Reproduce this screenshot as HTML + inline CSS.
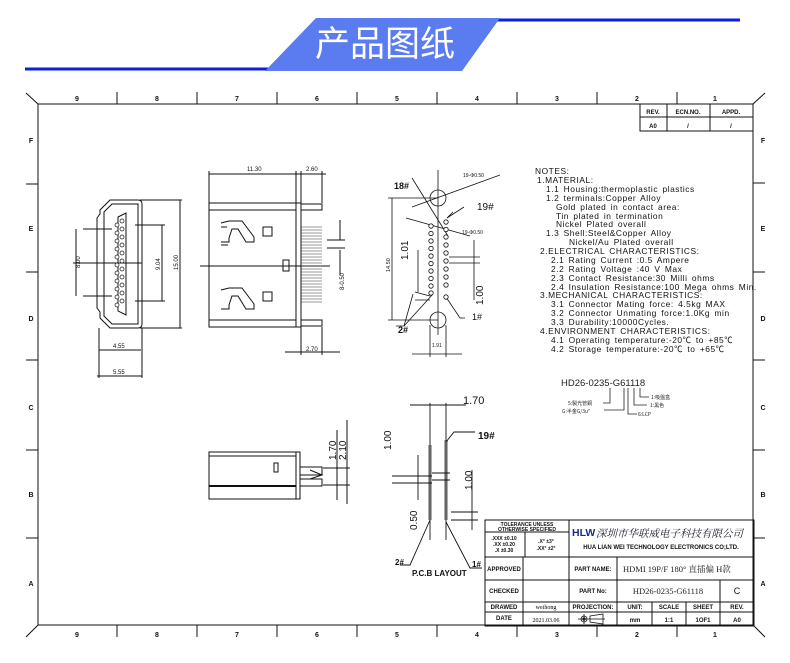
<!DOCTYPE html>
<html><head><meta charset="utf-8"><style>
html,body{margin:0;padding:0;background:#fff;}
svg{display:block;font-family:"Liberation Sans","Noto Sans CJK SC",sans-serif;}
.t{font-size:8.4px;fill:#111;letter-spacing:0.55px;word-spacing:1.5px;}
.s{font-size:6px;fill:#111;}
.b{font-size:7px;font-weight:bold;fill:#111;}
</style></head><body>
<svg width="790" height="663" viewBox="0 0 790 663" xmlns="http://www.w3.org/2000/svg">
<!-- header -->
<line x1="25" y1="69" x2="270" y2="69" stroke="#0a1ee6" stroke-width="3"/>
<line x1="495" y1="20" x2="740" y2="20" stroke="#0a1ee6" stroke-width="3"/>
<polygon points="316,18 500,18 462,71 265,71" fill="#5b7cf0"/>
<text x="385" y="56" text-anchor="middle" font-size="35" fill="#fff" font-family="Noto Sans CJK SC,sans-serif">产品图纸</text>

<g stroke="#111" fill="none" stroke-width="1">
<!-- frame -->
<rect x="38" y="104" width="715" height="521"/>
<line x1="26" y1="93" x2="38" y2="104"/><line x1="765" y1="93" x2="753" y2="104"/>
<line x1="26" y1="637" x2="38" y2="625"/><line x1="765" y1="637" x2="753" y2="625"/>
<path d="M117 92V104M197 92V104M277 92V104M357 92V104M437 92V104M517 92V104M597 92V104M677 92V104"/>
<path d="M117 625V637M197 625V637M277 625V637M357 625V637M437 625V637M517 625V637M597 625V637M677 625V637"/>
<path d="M26 184H38M26 272H38M26 360H38M26 450H38M26 538H38"/>
<path d="M753 183H765M753 272H765M753 360H765M753 450H765M753 538H765"/>
<!-- rev table -->
<rect x="640" y="104" width="113" height="27"/>
<path d="M640 117H753M667 104V131M710 104V131"/>
<!-- title block -->
<rect x="485" y="520" width="269" height="106"/>
<path d="M485 557H754M485 580H754M485 602H754M485 612H754"/>
<path d="M523 557V626M569 520V626M617 557V626M652 602V626M686 602V626M720 580V626"/>
<path d="M485 532H569M525 532V557"/>
</g>
<g class="b" text-anchor="middle" font-size="8">
<text x="77" y="101">9</text><text x="157" y="101">8</text><text x="237" y="101">7</text><text x="317" y="101">6</text><text x="397" y="101">5</text><text x="477" y="101">4</text><text x="557" y="101">3</text><text x="637" y="101">2</text><text x="715" y="101">1</text>
<text x="77" y="637">9</text><text x="157" y="637">8</text><text x="237" y="637">7</text><text x="317" y="637">6</text><text x="397" y="637">5</text><text x="477" y="637">4</text><text x="557" y="637">3</text><text x="637" y="637">2</text><text x="715" y="637">1</text>
<text x="31" y="143">F</text><text x="31" y="231">E</text><text x="31" y="321">D</text><text x="31" y="410">C</text><text x="31" y="497">B</text><text x="31" y="586">A</text>
<text x="763" y="143">F</text><text x="763" y="231">E</text><text x="763" y="321">D</text><text x="763" y="410">C</text><text x="763" y="497">B</text><text x="763" y="586">A</text>
</g>
<g class="s" text-anchor="middle" font-weight="bold">
<text x="653" y="114">REV.</text><text x="688" y="114">ECN.NO.</text><text x="731" y="114">APPD.</text>
<text x="653" y="128">A0</text><text x="688" y="128">/</text><text x="731" y="128">/</text>
<text x="527" y="526" font-size="5">TOLERANCE UNLESS</text><text x="527" y="531" font-size="5">OTHERWISE SPECIFIED</text>
<text x="504" y="540" font-size="5">.XXX ±0.10</text><text x="504" y="546" font-size="5">.XX ±0.20</text><text x="504" y="552" font-size="5">.X ±0.30</text>
<text x="546" y="543" font-size="5">.X° ±3°</text><text x="546" y="550" font-size="5">.XX° ±2°</text>
<text x="504" y="571">APPROVED</text><text x="504" y="593">CHECKED</text><text x="504" y="609">DRAWED</text><text x="504" y="620">DATE</text>
<text x="593" y="571">PART NAME:</text><text x="593" y="593">PART No:</text><text x="593" y="609">PROJECTION:</text>
<text x="635" y="609">UNIT:</text><text x="669" y="609">SCALE</text><text x="703" y="609">SHEET</text><text x="737" y="609">REV.</text>
<text x="635" y="622">mm</text><text x="669" y="622">1:1</text><text x="703" y="622">1OF1</text><text x="737" y="622">A0</text>
<text x="661" y="549">HUA LIAN WEI TECHNOLOGY ELECTRONICS CO;LTD.</text>
</g>
<text x="546" y="609" font-size="6" text-anchor="middle" font-family="Liberation Serif,serif">weihong</text>
<text x="546" y="622" font-size="6" text-anchor="middle" font-family="Liberation Serif,serif">2021.03.06</text>
<text x="572" y="536" font-size="10.5" font-weight="bold" fill="#1a2a8a">HLW</text>
<text x="596" y="537" font-size="10.5" fill="#223" font-family="Noto Serif CJK SC,serif" font-style="italic">深圳市华联威电子科技有限公司</text>
<text x="623" y="572" font-size="8.5" fill="#222" font-family="Liberation Serif,Noto Serif CJK SC,serif">HDMI 19P/F 180° 直插偏 H款</text>
<text x="668" y="594" font-size="8.5" fill="#222" text-anchor="middle" font-family="Liberation Serif,serif">HD26-0235-G61118</text>
<text x="737" y="594" font-size="9" fill="#111" text-anchor="middle">C</text>
<g stroke="#111" fill="none" stroke-width="0.8"><circle cx="584" cy="619" r="3"/><circle cx="584" cy="619" r="1.2"/><path d="M578 619H605M584 614V624M590 616L603 614V624L590 622Z"/></g>

<!-- notes -->
<g class="t">
<text x="535" y="174">NOTES:</text>
<text x="537" y="183">1.MATERIAL:</text>
<text x="546" y="192">1.1 Housing:thermoplastic plastics</text>
<text x="546" y="201">1.2 terminals:Copper Alloy</text>
<text x="556" y="210">Gold plated in contact area:</text>
<text x="556" y="219">Tin plated in termination</text>
<text x="556" y="227">Nickel Plated overall</text>
<text x="546" y="236">1.3 Shell:Steel&amp;Copper Alloy</text>
<text x="569" y="245">Nickel/Au Plated overall</text>
<text x="540" y="254">2.ELECTRICAL CHARACTERISTICS:</text>
<text x="551" y="263">2.1 Rating Current :0.5 Ampere</text>
<text x="551" y="272">2.2 Rating Voltage :40 V Max</text>
<text x="551" y="281">2.3 Contact Resistance:30 Milli ohms</text>
<text x="551" y="290">2.4 Insulation Resistance:100 Mega ohms Min.</text>
<text x="540" y="298">3.MECHANICAL CHARACTERISTICS:</text>
<text x="551" y="307">3.1 Connector Mating force: 4.5kg MAX</text>
<text x="551" y="316">3.2 Connector Unmating force:1.0Kg min</text>
<text x="551" y="325">3.3 Durability:10000Cycles.</text>
<text x="540" y="334">4.ENVIRONMENT CHARACTERISTICS:</text>
<text x="551" y="343">4.1 Operating temperature:-20℃ to +85℃</text>
<text x="551" y="352">4.2 Storage temperature:-20℃ to +65℃</text>
</g>
<text x="561" y="386" font-size="9.5" fill="#222">HD26-0235-G61118</text>
<g stroke="#222" fill="none" stroke-width="0.8"><path d="M610 388V403H603M624 388V410H604M628 388V414H637M634 388V405H647M640 388V397H649"/></g>
<g font-size="5" fill="#222" font-family="Noto Sans CJK SC,sans-serif"><text x="568" y="405">5:製光管銅</text><text x="562" y="413">G:半金G/3u"</text><text x="638" y="416">6:LCP</text><text x="650" y="407">1:黑色</text><text x="651" y="399">1:吸盤盒</text></g>

<!-- front view -->
<g stroke="#111" fill="none" stroke-width="1">
<path d="M110 200H138Q142 200 142 204V324Q142 328 138 328H110L100 318V312L97 308V218L100 214V210Z"/>
<path d="M112 204H138V324H112L104 316V212Z"/>
<path d="M118 217L126 213V315L118 311Z"/>
<path d="M83 229H112M83 296H112M76 229V296M135 225H165M135 301H165M162 225V301M140 200H182M140 328H182M180 200V328M73 263H142M99 328V378M142 328V378M99 350H141M97 376H142"/>
</g>
<g fill="#fff" stroke="#111" stroke-width="0.7">
<circle cx="117" cy="225" r="2"/><circle cx="117" cy="233" r="2"/><circle cx="117" cy="241" r="2"/><circle cx="117" cy="249" r="2"/><circle cx="117" cy="257" r="2"/><circle cx="117" cy="265" r="2"/><circle cx="117" cy="273" r="2"/><circle cx="117" cy="281" r="2"/><circle cx="117" cy="289" r="2"/><circle cx="117" cy="297" r="2"/><circle cx="117" cy="305" r="2"/>
<circle cx="122" cy="221" r="2"/><circle cx="122" cy="229" r="2"/><circle cx="122" cy="237" r="2"/><circle cx="122" cy="245" r="2"/><circle cx="122" cy="253" r="2"/><circle cx="122" cy="261" r="2"/><circle cx="122" cy="269" r="2"/><circle cx="122" cy="277" r="2"/><circle cx="122" cy="285" r="2"/><circle cx="122" cy="293" r="2"/><circle cx="122" cy="301" r="2"/>
</g>
<g class="s" font-size="5.5"><text transform="translate(80 268) rotate(-90)">8.00</text><text transform="translate(160 270) rotate(-90)">9.04</text><text transform="translate(178 270) rotate(-90)">15.00</text><text x="113" y="348">4.55</text><text x="113" y="374">5.55</text></g>

<!-- top view -->
<g stroke="#111" fill="none" stroke-width="1">
<rect x="209" y="203" width="87" height="124"/><path d="M209 210H296M209 320H296"/>
<rect x="296" y="203" width="5" height="124"/>
<path d="M301 204H322V210H301M301 320H322V326H301"/>
<path d="M221 223L229 221H242L254 237V242H246L238 229H232L229 238V242H221M221 227H227M221 245H228"/>
<path d="M221 290L229 288H242L254 304V309H246L238 296H232L229 305V309H221"/>
<rect x="263" y="227" width="9" height="9"/><rect x="263" y="292" width="9" height="9"/>
<rect x="283" y="260" width="6" height="11"/>
<path d="M200 266H330M209 203V171M296 203V171M301 171V210M322 171V203M209 174H296M296 174H326M301 327V355M322 327V355M285 352H340M340 220V240M340 250V275M327 240H345M327 248H345"/>
</g>
<g stroke="#333" stroke-width="0.6"><path d="M301 227H322M301 230H322M301 233H322M301 236H322M301 239H322M301 242H322M301 245H322M301 248H322M301 251H322M301 254H322M301 257H322M301 260H322M301 263H322M301 266H322M301 269H322M301 272H322M301 275H322M301 278H322M301 281H322M301 284H322M301 287H322M301 290H322M301 293H322M301 296H322M301 299H322M301 302H322"/></g>
<g class="s" font-size="5.5"><text x="247" y="171">11.30</text><text x="306" y="171">2.60</text><text x="306" y="351">2.70</text><text transform="translate(344 290) rotate(-90)">8-0.50</text></g>

<!-- pin view -->
<g stroke="#111" fill="none" stroke-width="0.8">
<path d="M438 170V335"/><circle cx="438" cy="198" r="8"/><circle cx="438" cy="320" r="8"/>
<path d="M388 198H438M388 320H438M392 198V320M412 178L448 236M406 218L470 236M412 207L500 175M415 292L430 296M415 300L430 300M418 250V292M449 257H480M449 263H480M474 240V300M413 294L404 326H396M433 294L404 326M446 297L460 318H465M453 212L447 218L464 207M430 325V357M446 325V357M412 354H462"/>
</g>
<g fill="#fff" stroke="#111" stroke-width="0.8">
<circle cx="431" cy="226" r="2.2"/><circle cx="431" cy="233.5" r="2.2"/><circle cx="431" cy="241" r="2.2"/><circle cx="431" cy="248.5" r="2.2"/><circle cx="431" cy="256" r="2.2"/><circle cx="431" cy="263.5" r="2.2"/><circle cx="431" cy="271" r="2.2"/><circle cx="431" cy="278.5" r="2.2"/><circle cx="431" cy="286" r="2.2"/><circle cx="431" cy="293" r="2.2"/>
<circle cx="446" cy="222" r="2.2"/><circle cx="446" cy="229.5" r="2.2"/><circle cx="446" cy="237" r="2.2"/><circle cx="446" cy="245" r="2.2"/><circle cx="446" cy="253" r="2.2"/><circle cx="446" cy="261" r="2.2"/><circle cx="446" cy="269" r="2.2"/><circle cx="446" cy="277" r="2.2"/><circle cx="446" cy="285" r="2.2"/><circle cx="446" cy="297" r="2.2"/>
</g>
<g fill="#111">
<text x="394" y="189" font-size="9" font-weight="bold">18#</text><text x="477" y="210" font-size="10">19#</text>
<text x="472" y="320" font-size="9">1#</text><text x="398" y="333" font-size="9" font-weight="bold">2#</text>
<text x="463" y="177" font-size="5">19-Φ0.50</text><text x="462" y="234" font-size="5">19-Φ0.50</text>
<text x="432" y="347" font-size="5">1.91</text>
<text transform="translate(390 272) rotate(-90)" font-size="5.5">14.50</text>
<text transform="translate(408 260) rotate(-90)" font-size="10">1.01</text>
<text transform="translate(483 305) rotate(-90)" font-size="10">1.00</text>
</g>

<!-- side view -->
<g stroke="#111" fill="none" stroke-width="1">
<rect x="209" y="452" width="91" height="47"/><path d="M209 456H296M296 452V499"/>
<path d="M209 486H296" stroke-width="2"/>
<rect x="274" y="463" width="4" height="9"/>
<path d="M300 467H322V475H300M300 479H322V486H300M310 470L322 475L310 479"/>
<path d="M323 468H350M323 485H350M337 430V500M347 420V504"/>
</g>
<g fill="#111"><text transform="translate(336 460) rotate(-90)" font-size="10">1.70</text><text transform="translate(346 460) rotate(-90)" font-size="10">2.10</text></g>

<!-- PCB layout -->
<g stroke="#111" fill="none" stroke-width="0.9">
<path d="M430 403V540M446 403V540M410 405H466M392 476H432M392 483H432M418 455V500M432 473H450M432 480H450M451 512H478M451 520H478M472 470V530M446 442L454 432H475M430 520L410 565H400M446 522L470 568H482"/>
</g>
<g fill="#111">
<path d="M428 445H432V520H428Z" opacity="0.35"/><path d="M444 440H448V520H444Z" opacity="0.35"/>
<text x="463" y="404" font-size="11">1.70</text><text x="478" y="439" font-size="10" font-weight="bold">19#</text>
<text transform="translate(391 450) rotate(-90)" font-size="10">1.00</text>
<text transform="translate(472 490) rotate(-90)" font-size="10">1.00</text>
<text transform="translate(417 530) rotate(-90)" font-size="10">0.50</text>
<text x="395" y="565" font-size="8" font-weight="bold">2#</text><text x="412" y="576" font-size="8" font-weight="bold">P.C.B LAYOUT</text><text x="472" y="567" font-size="8" font-weight="bold">1#</text>
</g>
</svg>
</body></html>
